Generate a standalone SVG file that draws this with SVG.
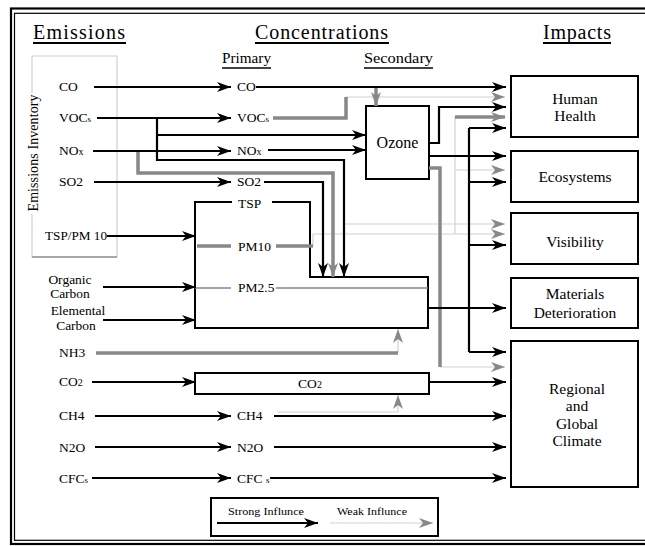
<svg xmlns="http://www.w3.org/2000/svg" width="645" height="546" viewBox="0 0 645 546" font-family="'Liberation Serif', 'Times New Roman', serif">
<style>
text{font-family:"Liberation Serif","Times New Roman",serif;fill:#000}
.lbl{font-size:13.5px}
.imp{font-size:15.5px;text-anchor:middle}
.hdr{font-size:20px}
.sub{font-size:14px}
.sm{font-size:9px}
.box{fill:#fff;stroke:#000;stroke-width:2}
.bk{fill:none;stroke:#000;stroke-width:2.2}
.gy{fill:none;stroke:#888;stroke-width:3.5}
.lg{fill:none;stroke:#d2d2d2;stroke-width:1.2}
.ul{stroke:#000;stroke-width:2}
</style>
<defs>
<marker id="ab" viewBox="0 0 14 10" markerWidth="14" markerHeight="10" refX="14" refY="5" orient="auto" markerUnits="userSpaceOnUse"><path d="M0,0 L14,5 L0,10 L4,5 Z" fill="#000"/></marker>
<marker id="ag" viewBox="0 0 14 10" markerWidth="14" markerHeight="10" refX="14" refY="5" orient="auto" markerUnits="userSpaceOnUse"><path d="M0,0 L14,5 L0,10 L4,5 Z" fill="#888"/></marker>
</defs>
<rect width="645" height="546" fill="#fff"/>
<rect x="11" y="8.5" width="650" height="535.5" fill="none" stroke="#000" stroke-width="2.2"/>
<rect x="14.5" y="13.3" width="650" height="527" fill="none" stroke="#000" stroke-width="1.2"/>

<g id="headers">
<text class="hdr" x="33" y="39" textLength="92" lengthAdjust="spacing">Emissions</text>
<line class="ul" x1="33" y1="43" x2="126" y2="43"/>
<text class="hdr" x="255" y="39" textLength="133" lengthAdjust="spacing">Concentrations</text>
<line class="ul" x1="255" y1="43" x2="389" y2="43"/>
<text class="hdr" x="543" y="39" textLength="68" lengthAdjust="spacing">Impacts</text>
<line class="ul" x1="543" y1="43" x2="611" y2="43"/>
<text class="sub" x="222" y="63" textLength="49" lengthAdjust="spacingAndGlyphs">Primary</text>
<line x1="222" y1="68" x2="271" y2="68" stroke="#000" stroke-width="1.5"/>
<text class="sub" x="364" y="63" textLength="69" lengthAdjust="spacingAndGlyphs">Secondary</text>
<line x1="364" y1="68" x2="433" y2="68" stroke="#000" stroke-width="1.5"/>
</g>

<g id="inventory">
<path d="M32,93 V56 H117 V257 H32 V214" fill="none" stroke="#d0d0d0" stroke-width="1.2"/>
<line x1="32" y1="257" x2="117" y2="257" stroke="#a8a8a8" stroke-width="1.8"/>
<text class="sub" transform="translate(38,153) rotate(-90)" text-anchor="middle" textLength="117" lengthAdjust="spacing">Emissions Inventory</text>
</g>

<g id="emissions">
<text class="lbl" x="59" y="91">CO</text>
<text class="lbl" x="59" y="122">VOC<tspan class="sm">s</tspan></text>
<text class="lbl" x="59" y="155">NO<tspan font-size="10">x</tspan></text>
<text class="lbl" x="59" y="186">SO2</text>
<text class="lbl" x="45" y="240" textLength="62" lengthAdjust="spacingAndGlyphs">TSP/PM 10</text>
<text class="lbl" x="70" y="284" text-anchor="middle">Organic</text>
<text class="lbl" x="70" y="298" text-anchor="middle">Carbon</text>
<text class="lbl" x="78" y="315" text-anchor="middle">Elemental</text>
<text class="lbl" x="76" y="330" text-anchor="middle">Carbon</text>
<text class="lbl" x="59" y="357">NH3</text>
<text class="lbl" x="59" y="386">CO<tspan font-size="10">2</tspan></text>
<text class="lbl" x="59" y="420">CH4</text>
<text class="lbl" x="59" y="452">N2O</text>
<text class="lbl" x="59" y="483">CFC<tspan class="sm">s</tspan></text>
</g>

<g id="primary">
<text class="lbl" x="237" y="91">CO</text>
<text class="lbl" x="237" y="122">VOC<tspan class="sm">s</tspan></text>
<text class="lbl" x="237" y="155">NO<tspan font-size="10">x</tspan></text>
<text class="lbl" x="237" y="186">SO2</text>
<text class="lbl" x="237" y="420">CH4</text>
<text class="lbl" x="237" y="452">N2O</text>
<text class="lbl" x="237" y="483">CFC <tspan class="sm">s</tspan></text>
</g>

<g id="particulates">
<path class="box" d="M232,202 H195 V328 H428 V277 H310 V202 H272" fill="none"/>
<text class="lbl" x="238" y="208">TSP</text>
<text class="lbl" x="238" y="251">PM10</text>
<text class="lbl" x="238" y="292">PM2.5</text>
</g>

<g id="ozone">
<rect class="box" x="366" y="106" width="63" height="73"/>
<text x="397.5" y="148" font-size="16" text-anchor="middle">Ozone</text>
</g>

<g id="co2box">
<rect class="box" x="195" y="373" width="234" height="21"/>
<text class="lbl" x="310" y="388" text-anchor="middle">CO<tspan font-size="10">2</tspan></text>
</g>

<g id="human-health">
<rect class="box" x="511" y="76" width="127" height="61"/>
<text class="imp" x="575" y="104">Human</text>
<text class="imp" x="575" y="121">Health</text>
</g>
<g id="ecosystems">
<rect class="box" x="511" y="151" width="127" height="51"/>
<text class="imp" x="575" y="182">Ecosystems</text>
</g>
<g id="visibility">
<rect class="box" x="511" y="213" width="127" height="51"/>
<text class="imp" x="575" y="247">Visibility</text>
</g>
<g id="materials">
<rect class="box" x="511" y="278" width="127" height="50"/>
<text class="imp" x="575" y="299">Materials</text>
<text class="imp" x="575" y="318">Deterioration</text>
</g>
<g id="climate">
<rect class="box" x="511" y="341" width="127" height="146"/>
<text class="imp" x="577" y="394">Regional</text>
<text class="imp" x="577" y="411">and</text>
<text class="imp" x="577" y="429">Global</text>
<text class="imp" x="577" y="446">Climate</text>
</g>

<g id="connectors">
<path class="lg" d="M346,97 H505" marker-end="url(#ag)"/>
<path class="lg" d="M455,117 V234"/>
<path class="lg" d="M455,170 H505" marker-end="url(#ag)"/>
<path class="lg" d="M313,246 V234 H505" marker-end="url(#ag)"/>
<path class="lg" d="M344,224 H505" marker-end="url(#ag)"/>
<path class="lg" d="M398,353 V329" marker-end="url(#ag)"/>
<path class="lg" d="M440,367 H505" marker-end="url(#ag)"/>
<path class="lg" d="M277,412 H398 V395" marker-end="url(#ag)"/>
<path class="gy" d="M138,151 V173 H333 V277" marker-end="url(#ag)"/>
<path class="gy" d="M273,118 H346 V97"/>
<path class="gy" d="M376,87 V106" marker-end="url(#ag)"/>
<path class="gy" d="M429,168 H440 V367"/>
<path class="gy" d="M455,117 H505" marker-end="url(#ag)"/>
<path class="gy" d="M197,246 H231 M276,246 H313"/>
<path class="gy" d="M96,353 H398"/>
<path fill="none" stroke="#888" stroke-width="1.6" d="M195,288 H231 M276,288 H428"/>
<path class="bk" d="M94,87 H231" marker-end="url(#ab)"/>
<path class="bk" d="M97,118 H231" marker-end="url(#ab)"/>
<path class="bk" d="M157,118 V160 H344 V277" marker-end="url(#ab)"/>
<path class="bk" d="M157,135 H366" marker-end="url(#ab)"/>
<path class="bk" d="M93,151 H231" marker-end="url(#ab)"/>
<path class="bk" d="M94,182 H231" marker-end="url(#ab)"/>
<path class="bk" d="M256,87 H506" marker-end="url(#ab)"/>
<path class="bk" d="M268,150 H366" marker-end="url(#ab)"/>
<path class="bk" d="M264,182 H323 V277" marker-end="url(#ab)"/>
<path class="bk" d="M429,143 H439 V107 H506" marker-end="url(#ab)"/>
<path class="bk" d="M429,156 H506" marker-end="url(#ab)"/>
<path class="bk" d="M428,308 H506" marker-end="url(#ab)"/>
<path class="bk" d="M469,128 V352"/>
<path class="bk" d="M469,128 H506" marker-end="url(#ab)"/>
<path class="bk" d="M469,182 H506" marker-end="url(#ab)"/>
<path class="bk" d="M469,245 H506" marker-end="url(#ab)"/>
<path class="bk" d="M469,352 H506" marker-end="url(#ab)"/>
<path class="bk" d="M107,236 H196" marker-end="url(#ab)"/>
<path class="bk" d="M103,287 H196" marker-end="url(#ab)"/>
<path class="bk" d="M103,320 H196" marker-end="url(#ab)"/>
<path class="bk" d="M92,382 H196" marker-end="url(#ab)"/>
<path class="bk" d="M429,382 H506" marker-end="url(#ab)"/>
<path class="bk" d="M95,416 H231" marker-end="url(#ab)"/>
<path class="bk" d="M274,416 H506" marker-end="url(#ab)"/>
<path class="bk" d="M95,447 H231" marker-end="url(#ab)"/>
<path class="bk" d="M274,447 H506" marker-end="url(#ab)"/>
<path class="bk" d="M92,478 H231" marker-end="url(#ab)"/>
<path class="bk" d="M270,478 H506" marker-end="url(#ab)"/>
</g>

<g id="legend">
<rect class="box" x="211" y="498" width="227" height="38"/>
<text x="228" y="515" font-size="11" textLength="76" lengthAdjust="spacingAndGlyphs">Strong Influnce</text>
<path class="bk" d="M217,523 H318" marker-end="url(#ab)"/>
<text x="337" y="515" font-size="11" textLength="70" lengthAdjust="spacingAndGlyphs">Weak Influnce</text>
<path class="lg" d="M330,523 H433" marker-end="url(#ag)"/>
</g>
</svg>
